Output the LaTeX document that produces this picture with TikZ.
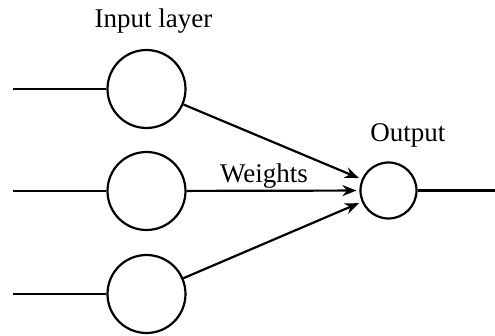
\documentclass[tikz,border=0pt]{standalone}
\usepackage{fontspec}
\setmainfont{Liberation Serif}
\usetikzlibrary{arrows.meta}
\begin{document}
\begin{tikzpicture}[x=0.5pt,y=-0.5pt,
  neuron/.style={draw,circle,line width=1.1pt,inner sep=0pt},
  wire/.style={line width=1.1pt},
  weight/.style={wire,-{Stealth[length=7pt,width=5.5pt]},shorten >=1.5pt},
  lbl/.style={font=\fontsize{13.5}{15}\selectfont,inner sep=0pt}]
\useasboundingbox (0,0) rectangle (495,336);
% input layer
\node[neuron,minimum size=39pt] (i1) at (146.5,89) {};
\node[neuron,minimum size=39pt] (i2) at (146.5,191) {};
\node[neuron,minimum size=39pt] (i3) at (146.5,294) {};
% output neuron
\node[neuron,minimum size=28pt] (o) at (388.5,190.5) {};
% free ends of the input and output lines
\coordinate (a1) at (13,89);
\coordinate (a2) at (13,191);
\coordinate (a3) at (13,294);
\coordinate (b) at (495,190.5);
\draw[wire] (a1) -- (i1);
\draw[wire] (a2) -- (i2);
\draw[wire] (a3) -- (i3);
\draw[wire] (o) -- (b);
% weighted connections
\draw[weight] (i1) -- (o);
\draw[weight] (i2) -- (o);
\draw[weight] (i3) -- (o);
% labels
\node[lbl] (t1) at (153.5,21) {Input layer};
\node[lbl] (t2) at (408,135) {Output};
\node[lbl] (t3) at (264,176) {Weights};
\end{tikzpicture}
\end{document}
